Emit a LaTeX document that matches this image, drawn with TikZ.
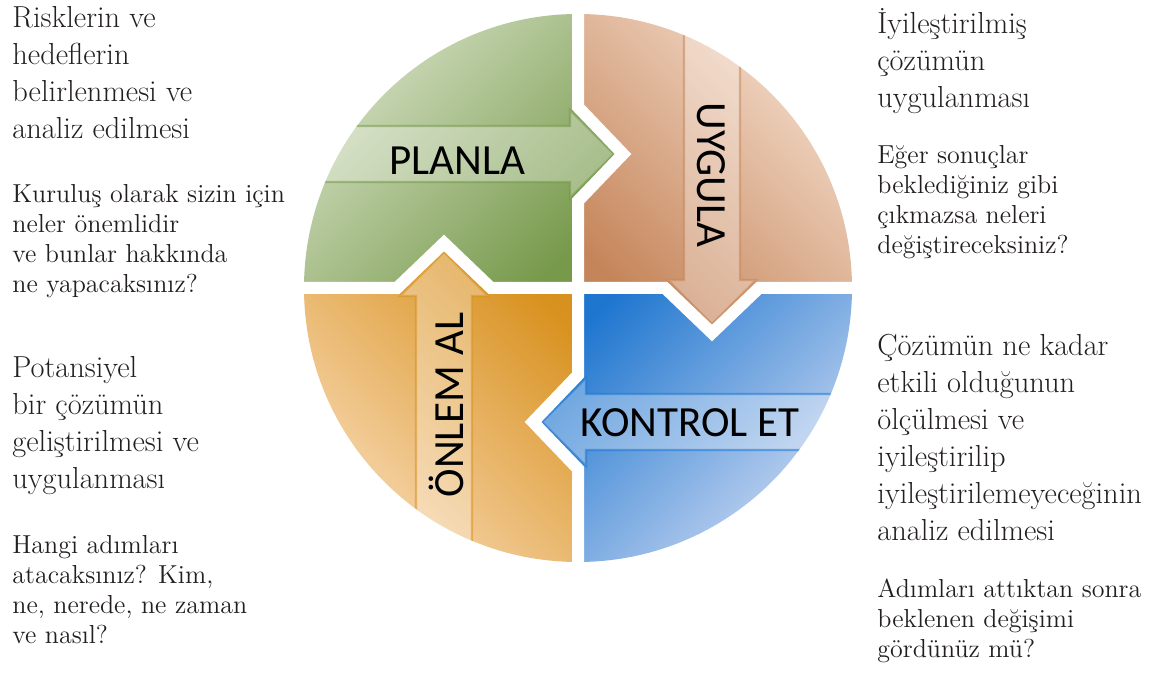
\documentclass[tikz,border=0pt]{standalone}
\usepackage{fontspec}
\newfontfamily\labelfont{Carlito}

\definecolor{greenL}{HTML}{D4DFC3}
\definecolor{greenD}{HTML}{76994A}
\definecolor{peachL}{HTML}{F4DCCB}
\definecolor{peachD}{HTML}{C5855A}
\definecolor{blueD}{HTML}{1E76CF}
\definecolor{blueL}{HTML}{CAD8F2}
\definecolor{orangeD}{HTML}{D8911E}
\definecolor{orangeL}{HTML}{F8D9B3}
\definecolor{ink}{HTML}{231F20}

\tikzset{
  head/.style = {anchor=north west, inner sep=0pt, align=left, text=ink, font=\fontsize{15.2}{18.5}\selectfont},
  note/.style = {anchor=north west, inner sep=0pt, align=left, text=ink, font=\fontsize{13}{15}\selectfont},
  steplabel/.style = {font=\labelfont\fontsize{21.5}{24}\selectfont, inner sep=0pt},
  gap/.style = {white, line width=6pt, line join=miter},
  band/.style = {fill=white, fill opacity=0.3, draw opacity=0.55, line width=1.2pt}
}

\begin{document}
\begin{tikzpicture}[x=0.5pt, y=0.5pt]
    \useasboundingbox[fill=white] (0,0) rectangle (1174,690);

    \begin{scope}[shift={(578,402)}]
      % four quarters
      \shade[top color=greenL, bottom color=greenD, shading angle=45]
        (0,0) -- (0,87) -- (45,134) -- (0,181) -- (0,274) arc[start angle=90, end angle=180, radius=274]
        -- (-181,0) -- (-134,45) -- (-87,0) -- cycle;
      \shade[top color=peachL, bottom color=peachD, shading angle=-45]
        (0,0) -- (0,87) -- (45,134) -- (0,181) -- (0,274) arc[start angle=90, end angle=0, radius=274]
        -- (181,0) -- (134,-45) -- (87,0) -- cycle;
      \shade[top color=blueD, bottom color=blueL, shading angle=45]
        (0,0) -- (87,0) -- (134,-45) -- (181,0) -- (274,0) arc[start angle=0, end angle=-90, radius=274]
        -- (0,-181) -- (-45,-134) -- (0,-87) -- cycle;
      \shade[top color=orangeD, bottom color=orangeL, shading angle=-45]
        (0,0) -- (0,-87) -- (-45,-134) -- (0,-181) -- (0,-274) arc[start angle=270, end angle=180, radius=274]
        -- (-181,0) -- (-134,45) -- (-87,0) -- cycle;

      % light arrows
      \begin{scope}
        \clip (0,0) circle[radius=274];
        \foreach \ang/\col in {0/greenD, -90/peachD, -180/blueD, 90/orangeD}
          \draw[band, draw=\col, rotate=\ang] (-290,162) -- (-8,162) -- (-8,178) -- (36,134)
            -- (-8,90) -- (-8,106) -- (-290,106) -- cycle;
      \end{scope}

      % white gaps
      \draw[gap] (0,285) -- (0,181) -- (45,134) -- (0,87) -- (0,-87) -- (-45,-134) -- (0,-181) -- (0,-285);
      \draw[gap] (-285,0) -- (-181,0) -- (-134,45) -- (-87,0) -- (87,0) -- (134,-45) -- (181,0) -- (285,0);

      \node[steplabel] (plan) at (-121,127) {PLANLA};
      \node[steplabel, rotate=-90] (do) at (133,113) {UYGULA};
      \node[steplabel] (check) at (112,-135) {KONTROL ET};
      \node[steplabel, rotate=90] (act) at (-132,-117) {ÖNLEM AL};
    \end{scope}

    % left column
    \node[head] (planhead) at (12,689) {\strut Risklerin ve\\hedeflerin\\belirlenmesi ve\\analiz edilmesi};
    \node[note] (plannote) at (12,509) {\strut Kuruluş olarak sizin için\\neler önemlidir\\ve bunlar hakkında\\ne yapacaksınız?};
    \node[head] (acthead) at (12,339) {\strut Potansiyel\\bir çözümün\\geliştirilmesi ve\\uygulanması};
    \node[note] (actnote) at (12,158) {\strut Hangi adımları\\atacaksınız? Kim,\\ne, nerede, ne zaman\\ve nasıl?};

    % right column
    \node[head] (dohead) at (877,683) {\strut İyileştirilmiş\\çözümün\\uygulanması};
    \node[note] (donote) at (877,548) {\strut Eğer sonuçlar\\beklediğiniz gibi\\çıkmazsa neleri\\değiştireceksiniz?};
    \node[head] (checkhead) at (877,361) {\strut Çözümün ne kadar\\etkili olduğunun\\ölçülmesi ve\\iyileştirilip\\iyileştirilemeyeceğinin\\analiz edilmesi};
    \node[note] (checknote) at (877,114) {\strut Adımları attıktan sonra\\beklenen değişimi\\gördünüz mü?};
\end{tikzpicture}
\end{document}
